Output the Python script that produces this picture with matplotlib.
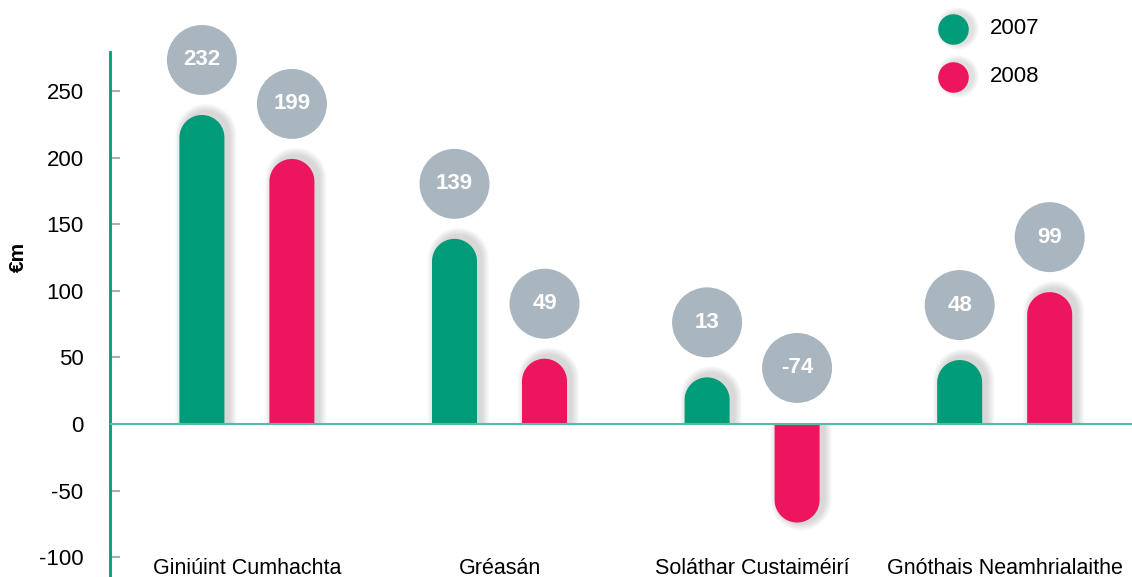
import numpy as np
import matplotlib.pyplot as plt
from matplotlib.patches import Polygon, Ellipse

categories = ['Giniúint Cumhachta', 'Gréasán', 'Soláthar Custaiméirí', 'Gnóthais Neamhrialaithe']
years = ['2007', '2008']
vals_2007 = [232, 139, 13, 48]
vals_2008 = [199, 49, -74, 99]
yticks = [-100, -50, 0, 50, 100, 150, 200, 250]

green = '#009b78'
pink = '#ee1560'
grey = '#aab6bf'

plt.rcParams['font.family'] = ['Liberation Sans', 'DejaVu Sans']
plt.rcParams['axes.unicode_minus'] = False

W, H = 1132, 577
fig = plt.figure(figsize=(W / 100, H / 100), dpi=100)
ax = fig.add_axes([110 / W, 0, 1 - 110 / W, (H - 52) / H])
xlim = (-0.542, 3.504)
ylim = (-114.9, 279.3)
ax.set_xlim(*xlim)
ax.set_ylim(*ylim)

# pixels per data unit
px_x = (W - 110) / (xlim[1] - xlim[0])
px_y = (H - 52) / (ylim[1] - ylim[0])

bar_px = 45
off = 45 / px_x
min_h = 35


def pill(xc, top, color, z, grow=0, dx=0, dy=0, alpha=1.0):
    hw = (bar_px / 2 + grow) / px_x
    r = (bar_px / 2 + grow) / px_y
    s = 1 if top >= 0 else -1
    end = abs(top) + (grow + dy) / px_y
    xc = xc + dx / px_x
    c = s * (end - r)
    t = np.linspace(0, np.pi, 40)
    arc = np.column_stack([xc + hw * np.cos(t), c + s * r * np.sin(t)])
    pts = np.vstack([[xc + hw, 0], arc, [xc - hw, 0]])
    ax.add_patch(Polygon(pts, closed=True, facecolor=color, edgecolor='none',
                         alpha=alpha, zorder=z, clip_on=False))


def bubble(xc, yc, text):
    ax.add_patch(Ellipse((xc, yc), 70 / px_x, 70 / px_y, facecolor=grey,
                         edgecolor='none', zorder=4, clip_on=False))
    ax.text(xc, yc, text, ha='center', va='center', color='white',
            fontsize=16, fontweight='bold', zorder=5, clip_on=False)


for i in range(len(categories)):
    for v, col, sh in [(vals_2007[i], green, -off), (vals_2008[i], pink, off)]:
        top = max(abs(v), min_h) * (1 if v >= 0 else -1)
        x = i + sh
        for g in range(1, 9):
            pill(x, top, '#7a7a7a', 1, grow=g, dx=4, dy=3 if v >= 0 else 0, alpha=0.04)
        pill(x, top, col, 2)
        yc = top + 55 / px_y if v >= 0 else 56 / px_y
        bubble(x, yc, str(v))
    ax.text(i, -108.5, categories[i], ha='center', va='center', fontsize=15.5)

ax.axhline(0, color='#52bfa4', lw=1.5, zorder=3)

for s in ['top', 'right', 'bottom']:
    ax.spines[s].set_visible(False)
ax.spines['left'].set_color(green)
ax.spines['left'].set_linewidth(2)
ax.set_xticks([])
ax.set_yticks(yticks)
ax.tick_params(axis='y', direction='in', length=7, width=1.5, color='#a5b1b9',
               pad=19, labelsize=16)

fig.text(18 / W, 1 - 257 / H, '€m', rotation=90, ha='center', va='center',
         fontsize=15, fontweight='bold')

# legend
for k, (yr, col) in enumerate(zip(years, [green, pink])):
    yy = 1 - (29 + 48 * k) / H
    for g in range(1, 7):
        ax.scatter([957 / W], [yy + 1 / H], s=(22 + g * 1.4) ** 2, color='#7a7a7a',
                   alpha=0.04, transform=fig.transFigure, clip_on=False, zorder=5, linewidths=0)
    ax.scatter([953 / W], [yy], s=22 ** 2, color=col, transform=fig.transFigure,
               clip_on=False, zorder=6, linewidths=0)
    fig.text(990 / W, yy, yr, ha='left', va='center', fontsize=16)

fig.savefig('out.png', dpi=100)
